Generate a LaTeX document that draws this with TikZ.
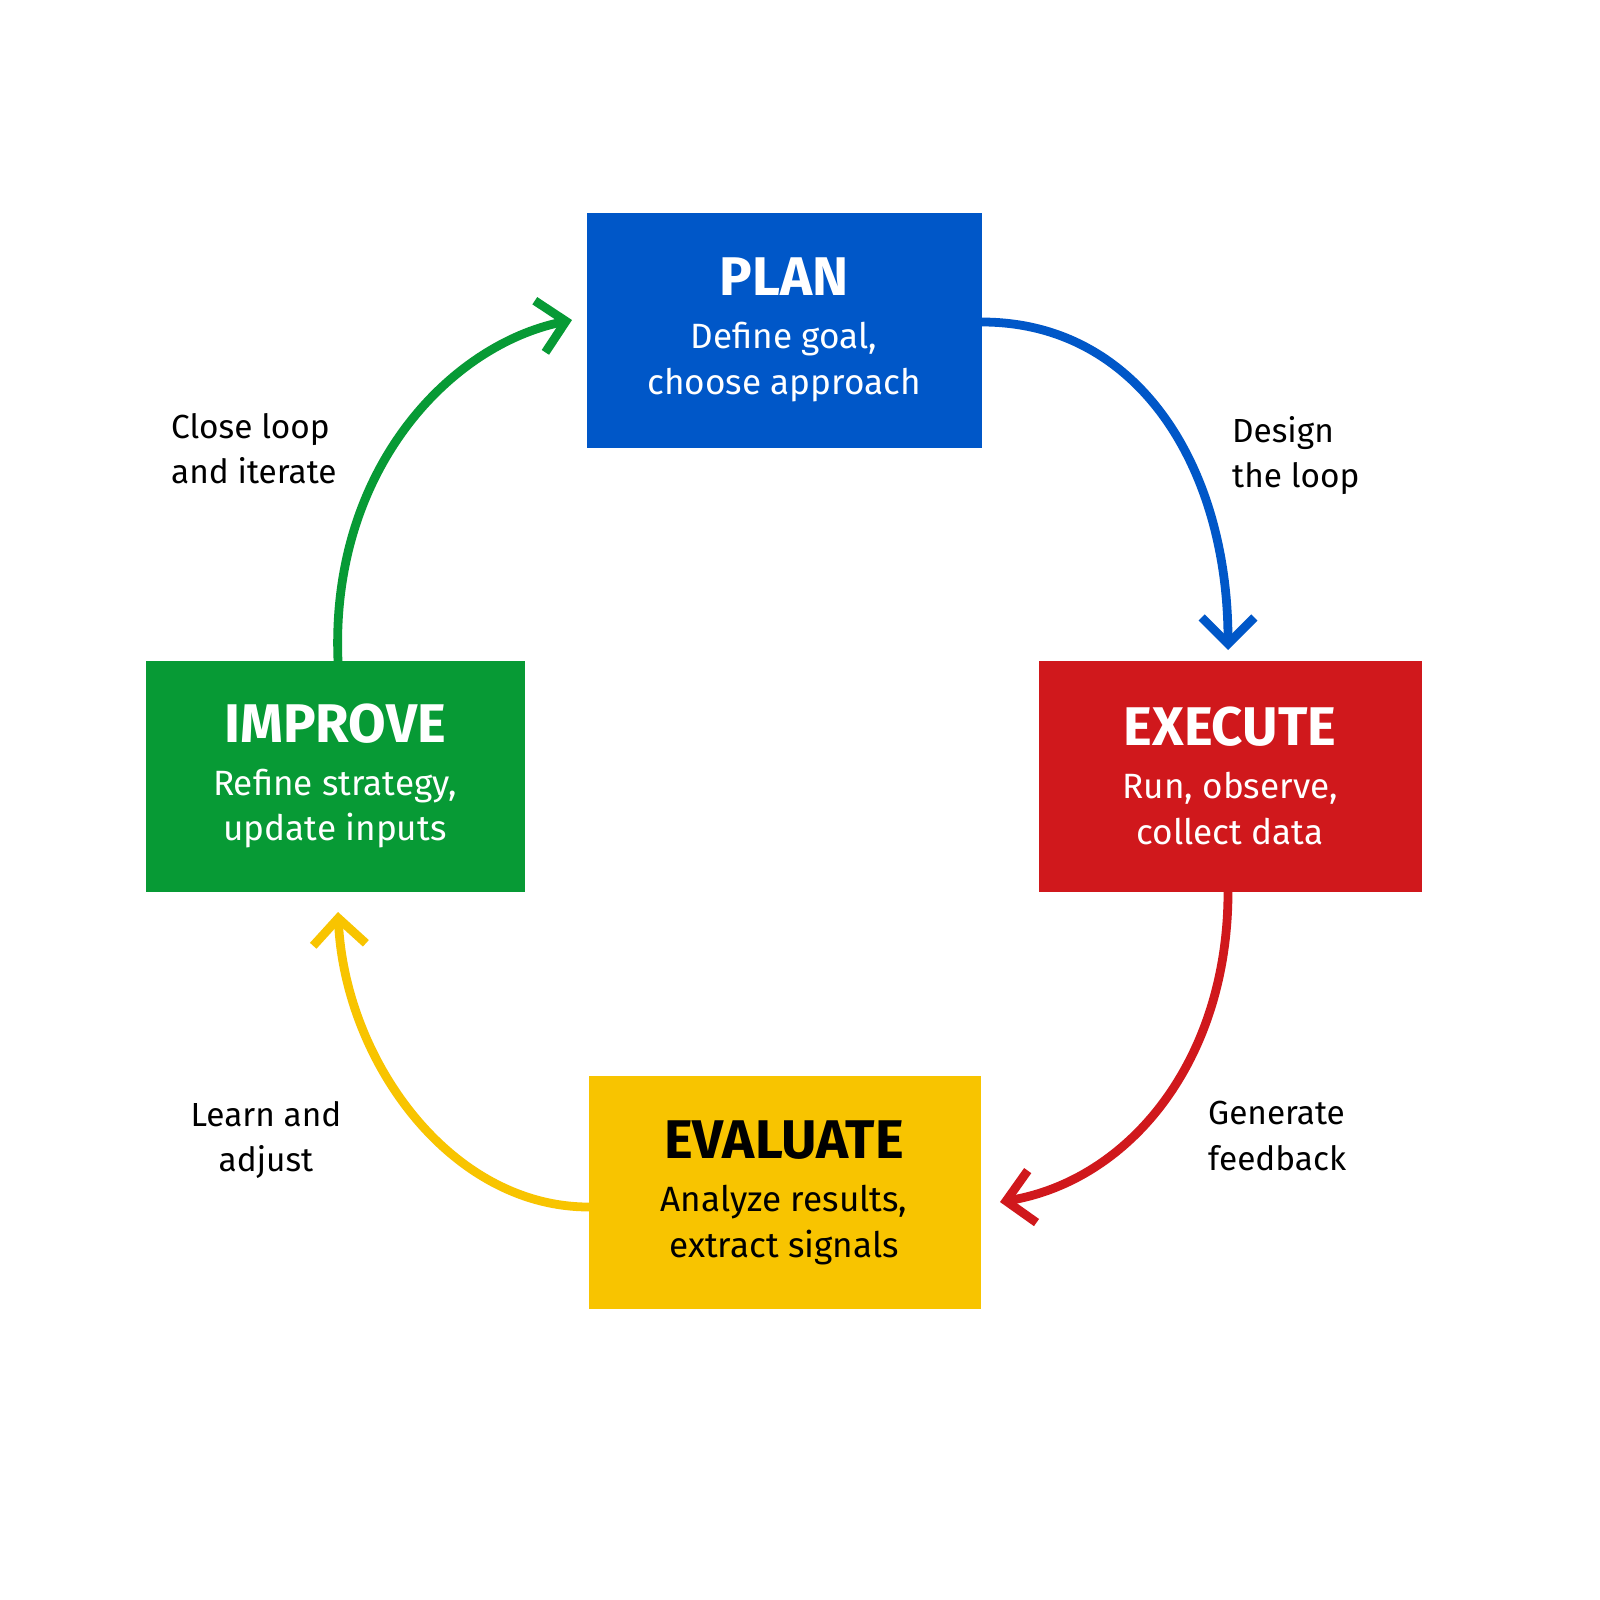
\documentclass[tikz,border=0pt]{standalone}
\usepackage{fontspec}
\setmainfont{Fira Sans}
\usetikzlibrary{arrows.meta}
\definecolor{cblue}{HTML}{0057C8}
\definecolor{cred}{HTML}{D0181C}
\definecolor{cgreen}{HTML}{079A35}
\definecolor{cyel}{HTML}{F8C400}
\begin{document}
\begin{tikzpicture}[x=0.02cm,y=-0.02cm,
 box/.style={draw=none,inner sep=0pt,align=center,font=\fontsize{20}{26}\selectfont},
 lab/.style={font=\fontsize{19}{26}\selectfont,align=left,anchor=north west},
 arr/.style={line width=5pt,-{Straight Barb[length=15pt,width=30pt,line width=5pt]}}]
\fill[white] (0,0) rectangle (1600,1600);
\useasboundingbox (0,0) rectangle (1600,1600);
\fill[cblue] (587,213) rectangle (982,448);
\fill[cred] (1039,661) rectangle (1422,892);
\fill[cgreen] (146,661) rectangle (525,892);
\fill[cyel] (589,1076) rectangle (981,1309);
\node[box,text=white] (plan) at (784,330) {{\fontsize{31}{36}\bfseries\selectfont PLAN}\\[4pt]Define goal,\\choose approach};
\node[box,text=white] (exec) at (1230,776) {{\fontsize{31}{36}\bfseries\selectfont EXECUTE}\\[4pt]Run, observe,\\collect data};
\node[box,text=white] (impr) at (335,776) {{\fontsize{31}{36}\bfseries\selectfont IMPROVE}\\[4pt]Refine strategy,\\update inputs};
\node[box,text=black] (eval) at (784,1193) {{\fontsize{31}{36}\bfseries\selectfont EVALUATE}\\[4pt]Analyze results,\\extract signals};
\coordinate (p1) at (982,322); \coordinate (e1) at (1228,650);
\coordinate (e2) at (1228,892); \coordinate (v1) at (1000,1202);
\coordinate (v2) at (589,1207); \coordinate (i1) at (338,912);
\coordinate (i2) at (338,661); \coordinate (p2) at (572,320);
\draw[arr,cblue] (p1) .. controls (1140,322) and (1228,470) .. (e1);
\draw[arr,cred] (e2) .. controls (1228,1060) and (1130,1180) .. (v1);
\draw[arr,cyel] (v2) .. controls (450,1207) and (345,1060) .. (i1);
\draw[arr,cgreen] (i2) .. controls (330,470) and (450,345) .. (p2);
\node[lab] (l1) at (1226,410) {Design\\the loop};
\node[lab] (l2) at (1202,1095) {Generate\\feedback};
\node[lab,align=center,anchor=north] (l3) at (266,1095) {Learn and\\adjust};
\node[lab] (l4) at (165,407) {Close loop\\and iterate};
\end{tikzpicture}
\end{document}
